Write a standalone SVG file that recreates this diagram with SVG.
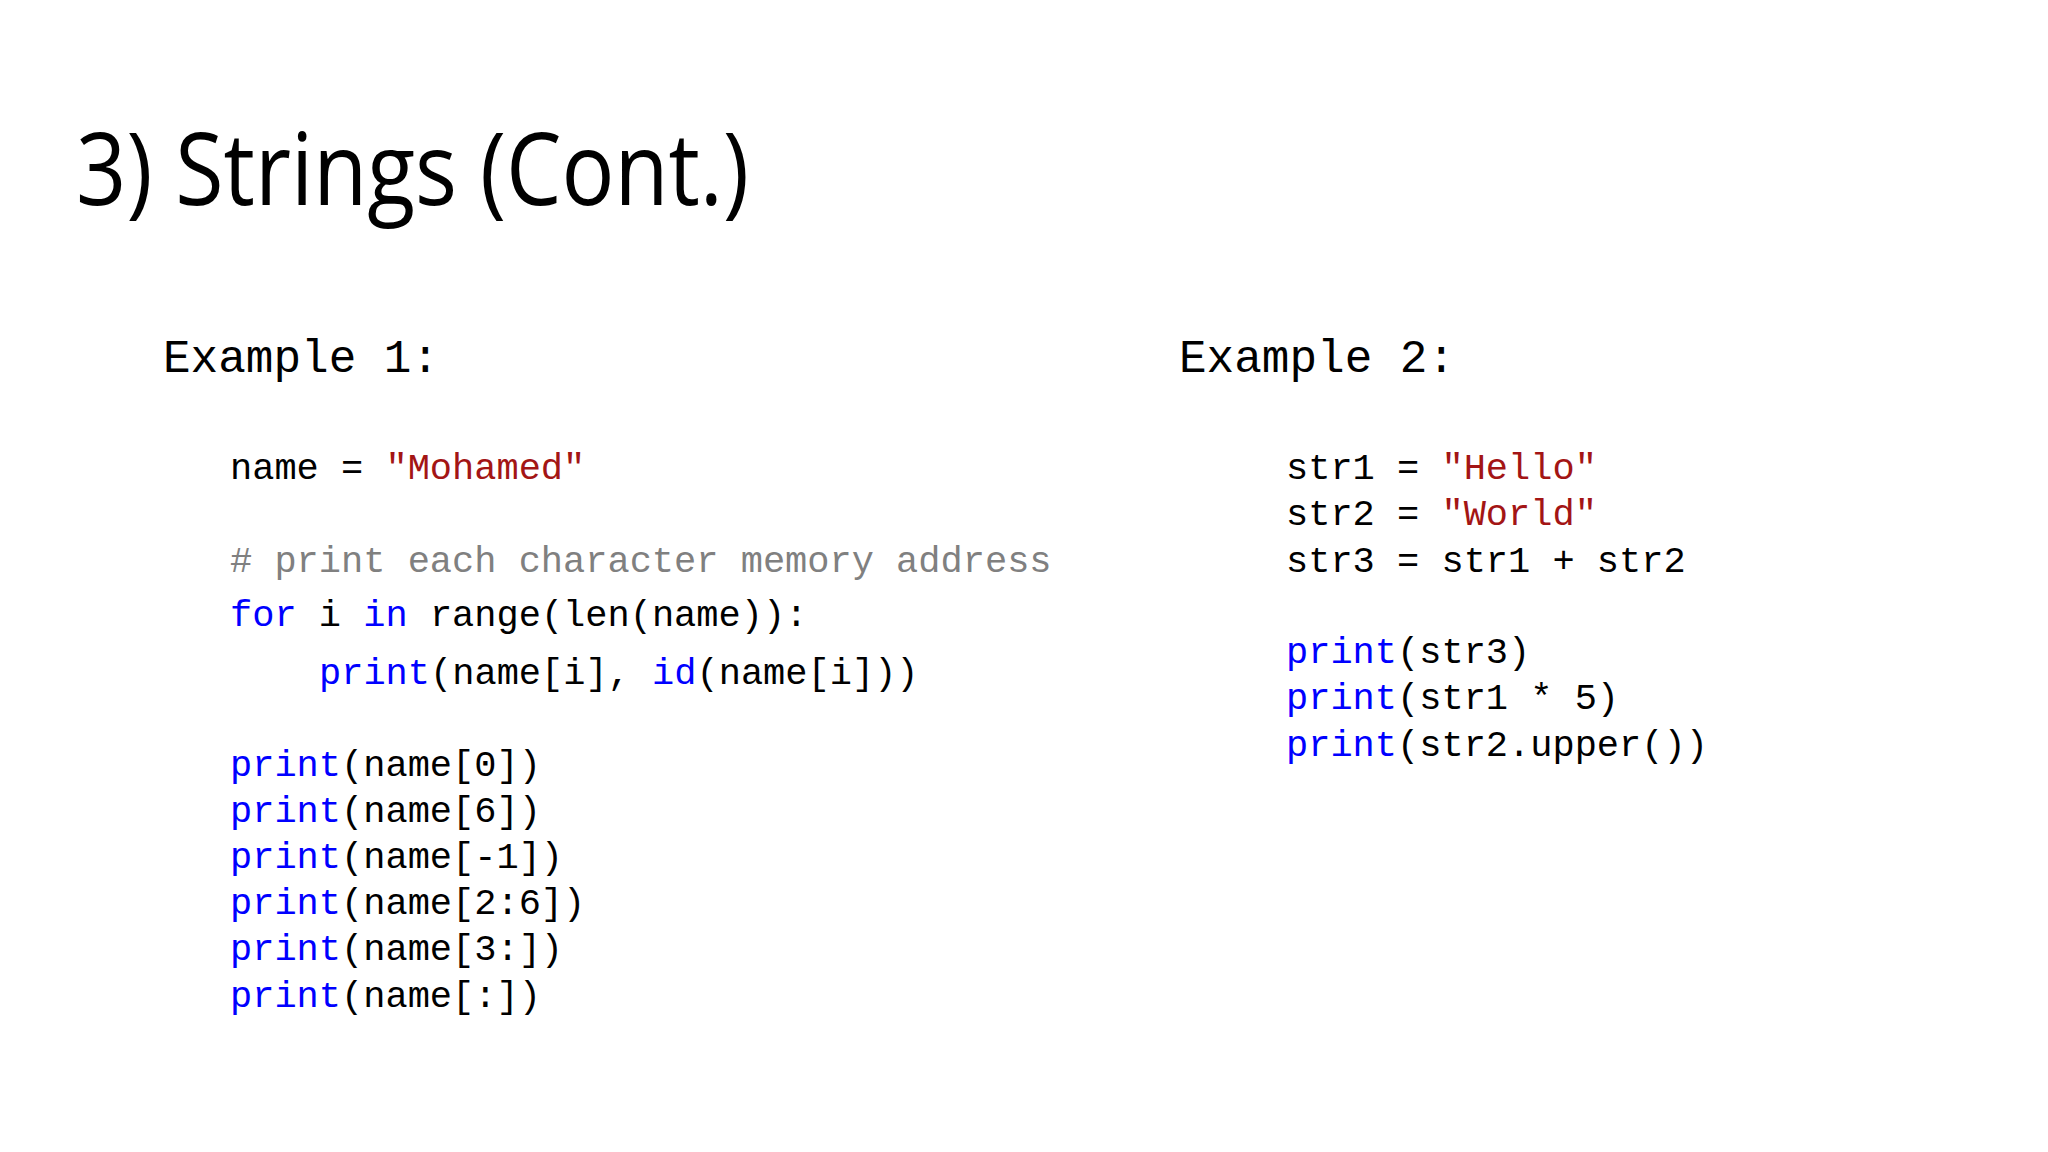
<svg xmlns="http://www.w3.org/2000/svg" width="2048" height="1152" viewBox="0 0 2048 1152">
<style>
.t{font-family:"Open Sans","Noto Sans",sans-serif;font-size:100px;fill:#000}
.h{font-family:"Liberation Mono",monospace;font-size:46px;fill:#000}
.c{font-family:"Liberation Mono",monospace;font-size:37px;fill:#000}
.k{fill:#0000FF}.s{fill:#A31515}.g{fill:#808080}
</style>
<rect width="2048" height="1152" fill="#fff"/>
<g id="title"><text class="t" x="76" y="205" textLength="673" lengthAdjust="spacingAndGlyphs">3) Strings (Cont.)</text></g>
<g id="example1">
<text class="h" x="163" y="372">Example 1:</text>
<text class="c" x="230" y="479">name = <tspan class="s">"Mohamed"</tspan></text>
<text class="c g" x="230" y="572"># print each character memory address</text>
<text class="c" x="230" y="626"><tspan class="k">for</tspan> i <tspan class="k">in</tspan> range(len(name)):</text>
<text class="c" x="319" y="684"><tspan class="k">print</tspan>(name[i], <tspan class="k">id</tspan>(name[i]))</text>
<text class="c" x="230" y="776"><tspan class="k">print</tspan>(name[0])</text>
<text class="c" x="230" y="822"><tspan class="k">print</tspan>(name[6])</text>
<text class="c" x="230" y="868"><tspan class="k">print</tspan>(name[-1])</text>
<text class="c" x="230" y="914"><tspan class="k">print</tspan>(name[2:6])</text>
<text class="c" x="230" y="960"><tspan class="k">print</tspan>(name[3:])</text>
<text class="c" x="230" y="1007"><tspan class="k">print</tspan>(name[:])</text>
</g>
<g id="example2">
<text class="h" x="1179" y="372">Example 2:</text>
<text class="c" x="1286" y="479">str1 = <tspan class="s">"Hello"</tspan></text>
<text class="c" x="1286" y="525">str2 = <tspan class="s">"World"</tspan></text>
<text class="c" x="1286" y="572">str3 = str1 + str2</text>
<text class="c" x="1286" y="663"><tspan class="k">print</tspan>(str3)</text>
<text class="c" x="1286" y="709"><tspan class="k">print</tspan>(str1 * 5)</text>
<text class="c" x="1286" y="756"><tspan class="k">print</tspan>(str2.upper())</text>
</g>
<g id="connectors"/>
</svg>
